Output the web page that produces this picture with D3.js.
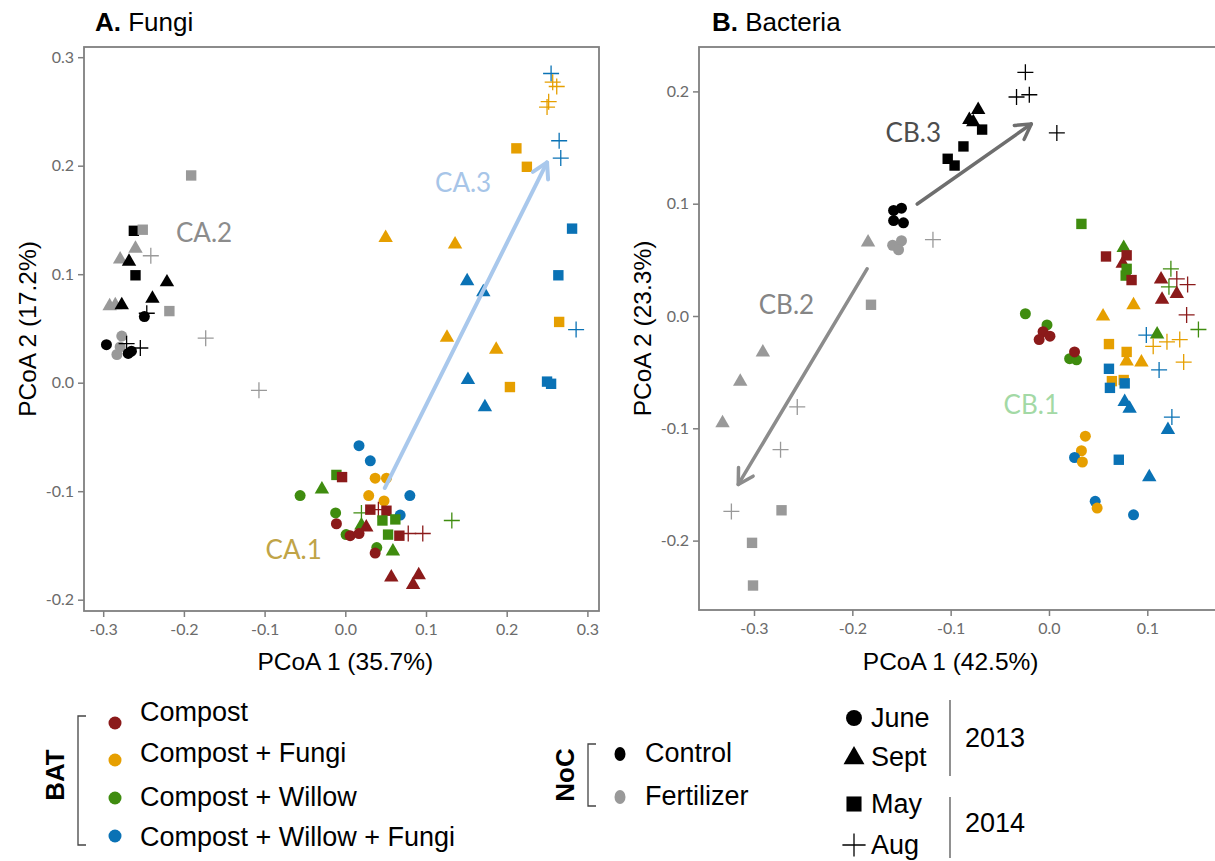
<!DOCTYPE html>
<html>
<head>
<meta charset="utf-8">
<script src="https://cdn.jsdelivr.net/npm/d3@7"></script>
<style>
  body { margin: 0; background: #fff; }
  text { font-family: "Liberation Sans", Arial, sans-serif; }
</style>
</head>
<body>
<script>
// ---- data ----
const treatments = ['C', 'CF', 'CW', 'CWF', 'Ctl', 'Fer']
const treatmentNames = ['Compost', 'Compost + Fungi', 'Compost + Willow', 'Compost + Willow + Fungi']
const nocNames = ['Control', 'Fertilizer']
const months = ['June', 'Sept', 'May', 'Aug']
const years = ['2013', '2014']

const fungiTicksX = [-0.3, -0.2, -0.1, 0.0, 0.1, 0.2, 0.3]
const fungiTicksY = [-0.2, -0.1, 0.0, 0.1, 0.2, 0.3]
const bacteriaTicksX = [-0.3, -0.2, -0.1, 0.0, 0.1]
const bacteriaTicksY = [-0.2, -0.1, 0.0, 0.1, 0.2]

// [PCoA1, PCoA2, treatment, month]
const fungiPoints = [
  [-0.191, 0.191, 'Fer', 'May'], [-0.262, 0.140, 'Ctl', 'May'], [-0.251, 0.141, 'Fer', 'May'],
  [-0.260, 0.125, 'Fer', 'Sept'], [-0.279, 0.115, 'Fer', 'Sept'], [-0.268, 0.113, 'Ctl', 'Sept'],
  [-0.241, 0.117, 'Fer', 'Aug'], [-0.260, 0.099, 'Ctl', 'May'], [-0.221, 0.094, 'Ctl', 'Sept'],
  [-0.239, 0.079, 'Ctl', 'Sept'], [-0.292, 0.072, 'Fer', 'Sept'], [-0.285, 0.073, 'Fer', 'Sept'],
  [-0.277, 0.073, 'Ctl', 'Sept'], [-0.218, 0.066, 'Fer', 'May'], [-0.249, 0.061, 'Ctl', 'June'],
  [-0.246, 0.064, 'Ctl', 'Aug'], [-0.173, 0.041, 'Fer', 'Aug'], [-0.296, 0.035, 'Ctl', 'June'],
  [-0.277, 0.043, 'Fer', 'June'], [-0.279, 0.033, 'Fer', 'June'], [-0.283, 0.026, 'Fer', 'June'],
  [-0.271, 0.036, 'Ctl', 'Aug'], [-0.254, 0.032, 'Ctl', 'Aug'], [-0.269, 0.027, 'Ctl', 'June'],
  [-0.265, 0.029, 'Ctl', 'June'], [-0.107, -0.007, 'Fer', 'Aug'],
  [0.255, 0.285, 'CWF', 'Aug'], [0.257, 0.277, 'CF', 'Aug'], [0.262, 0.273, 'CF', 'Aug'],
  [0.252, 0.259, 'CF', 'Aug'], [0.250, 0.254, 'CF', 'Aug'], [0.265, 0.223, 'CWF', 'Aug'],
  [0.267, 0.207, 'CWF', 'Aug'], [0.212, 0.216, 'CF', 'May'], [0.225, 0.199, 'CF', 'May'],
  [0.281, 0.142, 'CWF', 'May'], [0.050, 0.135, 'CF', 'Sept'], [0.136, 0.129, 'CF', 'Sept'],
  [0.264, 0.099, 'CWF', 'May'], [0.151, 0.095, 'CWF', 'Sept'], [0.171, 0.085, 'CWF', 'Sept'],
  [0.265, 0.056, 'CF', 'May'], [0.286, 0.049, 'CWF', 'Aug'], [0.126, 0.043, 'CF', 'Sept'],
  [0.187, 0.032, 'CF', 'Sept'], [0.152, 0.004, 'CWF', 'Sept'], [0.204, -0.004, 'CF', 'May'],
  [0.250, 0.001, 'CWF', 'May'], [0.255, -0.001, 'CWF', 'May'], [0.173, -0.021, 'CWF', 'Sept'],
  [0.017, -0.058, 'CWF', 'June'], [0.031, -0.072, 'CWF', 'June'], [-0.011, -0.085, 'CW', 'May'],
  [-0.004, -0.087, 'C', 'May'], [0.037, -0.088, 'CF', 'June'], [0.051, -0.088, 'CF', 'June'],
  [-0.056, -0.104, 'CW', 'June'], [-0.029, -0.097, 'CW', 'Sept'], [0.029, -0.104, 'CF', 'June'],
  [0.048, -0.109, 'CF', 'June'], [0.080, -0.104, 'CWF', 'June'], [0.068, -0.122, 'CWF', 'June'],
  [-0.012, -0.120, 'CW', 'June'], [0.020, -0.120, 'CW', 'Aug'], [0.031, -0.117, 'C', 'May'],
  [0.051, -0.118, 'C', 'May'], [0.041, -0.117, 'C', 'Aug'], [-0.011, -0.130, 'C', 'June'],
  [0.046, -0.127, 'CW', 'May'], [0.062, -0.126, 'CW', 'May'], [0.020, -0.130, 'CW', 'Sept'],
  [0.026, -0.132, 'C', 'Sept'], [0.001, -0.140, 'CW', 'June'], [0.006, -0.141, 'C', 'June'],
  [0.017, -0.139, 'C', 'June'], [0.053, -0.140, 'CW', 'May'], [0.067, -0.141, 'C', 'May'],
  [0.078, -0.139, 'C', 'Aug'], [0.096, -0.139, 'C', 'Aug'], [0.132, -0.127, 'CW', 'Aug'],
  [0.039, -0.152, 'CW', 'June'], [0.037, -0.157, 'C', 'June'], [0.059, -0.154, 'CW', 'Sept'],
  [0.057, -0.178, 'C', 'Sept'], [0.091, -0.176, 'C', 'Sept'], [0.084, -0.185, 'C', 'Sept']
]

const bacteriaPoints = [
  [-0.024, 0.217, 'Ctl', 'Aug'], [-0.033, 0.195, 'Ctl', 'Aug'], [-0.020, 0.197, 'Ctl', 'Aug'],
  [0.008, 0.163, 'Ctl', 'Aug'], [-0.072, 0.185, 'Ctl', 'Sept'], [-0.081, 0.176, 'Ctl', 'Sept'],
  [-0.077, 0.174, 'Ctl', 'Sept'], [-0.068, 0.166, 'Ctl', 'May'], [-0.087, 0.151, 'Ctl', 'May'],
  [-0.103, 0.140, 'Ctl', 'May'], [-0.096, 0.134, 'Ctl', 'May'],
  [-0.158, 0.094, 'Ctl', 'June'], [-0.150, 0.096, 'Ctl', 'June'], [-0.158, 0.085, 'Ctl', 'June'],
  [-0.148, 0.083, 'Ctl', 'June'], [-0.159, 0.063, 'Fer', 'June'], [-0.150, 0.067, 'Fer', 'June'],
  [-0.153, 0.059, 'Fer', 'June'], [-0.184, 0.067, 'Fer', 'Sept'], [-0.118, 0.068, 'Fer', 'Aug'],
  [-0.181, 0.010, 'Fer', 'May'], [-0.291, -0.031, 'Fer', 'Sept'], [-0.314, -0.057, 'Fer', 'Sept'],
  [-0.332, -0.094, 'Fer', 'Sept'], [-0.256, -0.081, 'Fer', 'Aug'], [-0.273, -0.119, 'Fer', 'Aug'],
  [-0.323, -0.174, 'Fer', 'Aug'], [-0.272, -0.173, 'Fer', 'May'], [-0.302, -0.202, 'Fer', 'May'],
  [-0.301, -0.240, 'Fer', 'May'],
  [0.033, 0.082, 'CW', 'May'], [0.076, 0.062, 'CW', 'Sept'], [0.058, 0.053, 'C', 'May'],
  [0.079, 0.054, 'C', 'May'], [0.075, 0.048, 'C', 'Sept'], [0.079, 0.042, 'CW', 'May'],
  [0.078, 0.036, 'CW', 'May'], [0.084, 0.032, 'C', 'May'], [0.114, 0.034, 'C', 'Sept'],
  [0.124, 0.042, 'CW', 'Aug'], [0.130, 0.033, 'C', 'Aug'], [0.141, 0.028, 'C', 'Aug'],
  [0.122, 0.026, 'CW', 'Aug'], [0.130, 0.021, 'C', 'Sept'], [0.115, 0.016, 'C', 'Sept'],
  [0.140, 0.001, 'C', 'Aug'], [0.152, -0.012, 'CW', 'Aug'], [0.086, 0.011, 'CF', 'Sept'],
  [0.055, 0.001, 'CF', 'Sept'], [-0.024, 0.002, 'CW', 'June'], [-0.002, -0.008, 'CW', 'June'],
  [-0.006, -0.014, 'C', 'June'], [-0.010, -0.021, 'C', 'June'], [0.001, -0.018, 'C', 'June'],
  [0.021, -0.038, 'CW', 'June'], [0.028, -0.039, 'CW', 'June'], [0.026, -0.032, 'C', 'June'],
  [0.099, -0.017, 'CWF', 'Aug'], [0.110, -0.015, 'CW', 'Sept'], [0.106, -0.027, 'CF', 'Aug'],
  [0.120, -0.023, 'CF', 'Aug'], [0.133, -0.021, 'CF', 'Aug'], [0.137, -0.041, 'CF', 'Aug'],
  [0.112, -0.048, 'CWF', 'Aug'], [0.061, -0.025, 'CF', 'May'], [0.079, -0.032, 'CF', 'May'],
  [0.079, -0.039, 'CF', 'Sept'], [0.094, -0.040, 'CF', 'Sept'], [0.061, -0.047, 'CWF', 'May'],
  [0.064, -0.058, 'CF', 'May'], [0.076, -0.057, 'CF', 'May'], [0.062, -0.064, 'CWF', 'May'],
  [0.077, -0.060, 'CWF', 'May'], [0.077, -0.075, 'CWF', 'Sept'], [0.082, -0.081, 'CWF', 'Sept'],
  [0.125, -0.090, 'CWF', 'Aug'], [0.121, -0.100, 'CWF', 'Sept'], [0.037, -0.107, 'CF', 'June'],
  [0.033, -0.120, 'CF', 'June'], [0.026, -0.126, 'CWF', 'June'], [0.034, -0.130, 'CF', 'June'],
  [0.071, -0.128, 'CWF', 'May'], [0.102, -0.142, 'CWF', 'Sept'], [0.047, -0.165, 'CWF', 'June'],
  [0.049, -0.171, 'CF', 'June'], [0.086, -0.177, 'CWF', 'June']
]

// arrows: [x1, y1, x2, y2], labels: [x, y, text]
const fungiArrows = [[0.049, -0.097, 0.250, 0.203]]
const fungiLabels = [[-0.064, -0.153, 'CA.1'], [-0.175, 0.139, 'CA.2'], [0.146, 0.185, 'CA.3']]
const bacteriaArrows = [[-0.134, 0.0997, -0.018, 0.171], [-0.185, 0.042, -0.316, -0.150]]
const bacteriaLabels = [[-0.018, -0.078, 'CB.1'], [-0.267, 0.011, 'CB.2'], [-0.138, 0.164, 'CB.3']]

// ---- styles ----
const color = d3.scaleOrdinal().domain(treatments)
  .range(['#8b1a1a', '#e69f00', '#3f8c0f', '#0a72b5', '#000000', '#999999'])
const labelColor = { 'CA.1': '#c0a447', 'CA.2': '#8c8c8c', 'CA.3': '#a7c5e8',
  'CB.1': '#a3d9a5', 'CB.2': '#858585', 'CB.3': '#4d4d4d' }
const arrowColor = ['#a9c8ec', '#6e6e6e', '#8c8c8c']

const svg = d3.select('body').append('svg')
  .attr('width', 1215).attr('height', 861)

function drawShape(g, month, cx, cy, fill, scale) {
  if (month === 'Aug') {
    const h = 8 * scale
    g.append('path')
      .attr('d', `M${cx - h},${cy}H${cx + h}M${cx},${cy - h}V${cy + h}`)
      .attr('stroke', fill).attr('stroke-width', 1.3).attr('fill', 'none')
    return
  }
  const type = month === 'June' ? d3.symbolCircle : month === 'Sept' ? d3.symbolTriangle : d3.symbolSquare
  const size = month === 'June' ? 95 : month === 'Sept' ? 90 : 108
  g.append('path')
    .attr('d', d3.symbol().type(type).size(size * scale * scale)())
    .attr('transform', `translate(${cx},${cy + (month === 'Sept' ? 1.5 * scale : 0)})`)
    .attr('fill', fill)
}

function drawArrow(g, x1, y1, x2, y2, col, w) {
  const a = Math.atan2(y2 - y1, x2 - x1)
  const L = 17, th = Math.PI / 6
  g.append('line').attr('x1', x1).attr('y1', y1).attr('x2', x2).attr('y2', y2)
    .attr('stroke', col).attr('stroke-width', w).attr('stroke-linecap', 'round')
  g.append('path')
    .attr('d', `M${x2 - L * Math.cos(a - th)},${y2 - L * Math.sin(a - th)}L${x2},${y2}L${x2 - L * Math.cos(a + th)},${y2 - L * Math.sin(a + th)}`)
    .attr('stroke', col).attr('stroke-width', w).attr('fill', 'none')
    .attr('stroke-linecap', 'round').attr('stroke-linejoin', 'round')
}

function drawPanel(p) {
  const g = svg.append('g')
  const x = d3.scaleLinear().domain(p.xDom).range(p.xRange)
  const y = d3.scaleLinear().domain(p.yDom).range(p.yRange)
  const fmt = d => d.toFixed(1)

  const xa = g.append('g').attr('transform', `translate(0,${p.frame[3]})`)
    .call(d3.axisBottom(x).tickValues(p.ticksX).tickFormat(fmt).tickSize(6).tickPadding(7))
  const ya = g.append('g').attr('transform', `translate(${p.frame[0]},0)`)
    .call(d3.axisLeft(y).tickValues(p.ticksY).tickFormat(fmt).tickSize(6).tickPadding(4))
  for (const ax of [xa, ya]) {
    ax.select('.domain').remove()
    ax.selectAll('line').attr('stroke', '#7f7f7f').attr('stroke-width', 1.5)
    ax.selectAll('text').attr('fill', '#6b6b6b').style('font-family', 'Lato, sans-serif').style('font-size', '16px')
  }

  g.append('rect')
    .attr('x', p.frame[0]).attr('y', p.frame[1])
    .attr('width', p.frame[2] - p.frame[0]).attr('height', p.frame[3] - p.frame[1])
    .attr('fill', 'none').attr('stroke', '#7f7f7f').attr('stroke-width', 1.8)

  const pts = g.append('g')
  p.points.forEach(d => drawShape(pts, d[3], x(d[0]), y(d[1]), color(d[2]), 1))

  p.arrows.forEach((d, i) => drawArrow(g, x(d[0]), y(d[1]), x(d[2]), y(d[3]), p.arrowCols[i], p.arrowW))

  g.selectAll('.lab').data(p.labels).enter().append('text')
    .attr('x', d => x(d[0])).attr('y', d => y(d[1]))
    .attr('text-anchor', 'middle').attr('dominant-baseline', 'central')
    .style('font-family', 'Lato, sans-serif').style('font-size', '26px')
    .attr('fill', d => labelColor[d[2]]).text(d => d[2])

  g.append('text')
    .attr('x', (p.xRange[0] + p.xRange[1]) / 2).attr('y', 670)
    .attr('text-anchor', 'middle').style('font-size', '24.5px').text(p.xTitle)
  g.append('text')
    .attr('transform', `translate(${p.yTitleX},${(p.frame[1] + p.frame[3]) / 2}) rotate(-90)`)
    .attr('text-anchor', 'middle').style('font-size', '24.5px').text(p.yTitle)

  const t = g.append('text').attr('x', p.titleX).attr('y', 31).style('font-size', '26px')
  t.append('tspan').attr('font-weight', 'bold').text(p.tag)
  t.append('tspan').text(' ' + p.name)
}

drawPanel({
  xDom: [-0.3, 0.3], xRange: [103.2, 587.4], yDom: [-0.2, 0.3], yRange: [599.7, 57.2],
  frame: [84, 47, 599, 611], ticksX: fungiTicksX, ticksY: fungiTicksY,
  points: fungiPoints, arrows: fungiArrows, arrowCols: [arrowColor[0]], arrowW: 4,
  labels: fungiLabels, xTitle: 'PCoA 1 (35.7%)', yTitle: 'PCoA 2 (17.2%)', yTitleX: 36,
  tag: 'A.', name: 'Fungi', titleX: 95
})
drawPanel({
  xDom: [-0.3, 0.1], xRange: [754, 1147.3], yDom: [-0.2, 0.2], yRange: [540.6, 91.4],
  frame: [699, 47, 1245, 610], ticksX: bacteriaTicksX, ticksY: bacteriaTicksY,
  points: bacteriaPoints, arrows: bacteriaArrows, arrowCols: [arrowColor[1], arrowColor[2]], arrowW: 3.5,
  labels: bacteriaLabels, xTitle: 'PCoA 1 (42.5%)', yTitle: 'PCoA 2 (23.3%)', yTitleX: 651,
  tag: 'B.', name: 'Bacteria', titleX: 712
})

// ---- legends ----
const leg = svg.append('g')
const legFont = '27px'
function bracket(x, y1, y2) {
  leg.append('path').attr('d', `M${x + 8},${y1}H${x}V${y2}H${x + 8}`)
    .attr('fill', 'none').attr('stroke', '#444').attr('stroke-width', 1.3)
}
function vtitle(x, y, s) {
  leg.append('text').attr('transform', `translate(${x},${y}) rotate(-90)`)
    .attr('text-anchor', 'middle').attr('font-weight', 'bold').style('font-size', '26px').text(s)
}

vtitle(64, 775, 'BAT')
bracket(78, 716, 845)
const batDotY = [723, 760, 798, 836]
const batTextY = [712, 753, 797, 837]
treatmentNames.forEach((n, i) => {
  leg.append('circle').attr('cx', 115).attr('cy', batDotY[i]).attr('r', 6.5).attr('fill', color(treatments[i]))
  leg.append('text').attr('x', 140).attr('y', batTextY[i]).attr('dominant-baseline', 'central')
    .style('font-size', legFont).text(n)
})

vtitle(574, 775, 'NoC')
bracket(588, 744, 806)
const nocY = [754, 797]
nocNames.forEach((n, i) => {
  leg.append('ellipse').attr('cx', 620).attr('cy', nocY[i]).attr('rx', 5.5).attr('ry', 7)
    .attr('fill', color(treatments[4 + i]))
  leg.append('text').attr('x', 645).attr('y', nocY[i] - 1).attr('dominant-baseline', 'central')
    .style('font-size', legFont).text(n)
})

const monthY = [718, 757, 804, 845]
months.forEach((m, i) => {
  drawShape(leg, m, 854, monthY[i] + (m === 'Sept' ? -1 : 0), '#000', 1.45)
  leg.append('text').attr('x', 871).attr('y', monthY[i]).attr('dominant-baseline', 'central')
    .style('font-size', legFont).text(m)
})
const yearY = [[700, 776, 738], [797, 858, 823]]
years.forEach((yr, i) => {
  leg.append('line').attr('x1', 950).attr('x2', 950).attr('y1', yearY[i][0]).attr('y2', yearY[i][1])
    .attr('stroke', '#555').attr('stroke-width', 1.3)
  leg.append('text').attr('x', 965).attr('y', yearY[i][2]).attr('dominant-baseline', 'central')
    .style('font-size', legFont).text(yr)
})
</script>
</body>
</html>
